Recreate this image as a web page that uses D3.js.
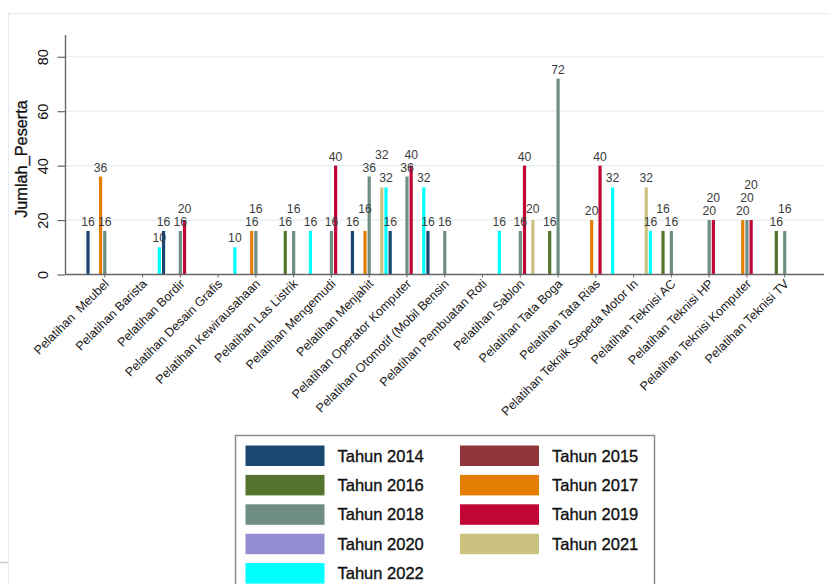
<!DOCTYPE html>
<html>
<head>
<meta charset="utf-8">
<script src="https://cdn.jsdelivr.net/npm/d3@7/dist/d3.min.js"></script>
<style>
  html, body { margin: 0; padding: 0; background: #ffffff; }
  svg { display: block; font-family: "Liberation Sans", Arial, sans-serif; }
</style>
</head>
<body>
<svg id="chart" width="830" height="584"></svg>
<script>
// ---------------- DATA ----------------
const categories = [
  "Pelatihan  Meubel", "Pelatihan Barista", "Pelatihan Bordir", "Pelatihan Desain Grafis",
  "Pelatihan Kewirausahaan", "Pelatihan Las Listrik", "Pelatihan Mengemudi", "Pelatihan Menjahit",
  "Pelatihan Operator Komputer", "Pelatihan Otomotif (Mobil Bensin", "Pelatihan Pembuatan Roti",
  "Pelatihan Sablon", "Pelatihan Tata Boga", "Pelatihan Tata Rias", "Pelatihan Teknik Sepeda Motor In",
  "Pelatihan Teknisi AC", "Pelatihan Teknisi HP", "Pelatihan Teknisi Komputer", "Pelatihan Teknisi TV"
];
const years = ["Tahun 2014", "Tahun 2015", "Tahun 2016", "Tahun 2017", "Tahun 2018",
               "Tahun 2019", "Tahun 2020", "Tahun 2021", "Tahun 2022"];
const colors = ["#1a476f", "#90353b", "#55752f", "#e37e00", "#6e8e84",
                "#c10534", "#938dd2", "#cac27e", "#00ffff"];
// values per year, one entry per category (null = no bar)
const tahun2014 = [16, null, 16, null, null, null, null, 16, 16, 16, null, null, null, null, null, null, null, null, null];
const tahun2015 = [null, null, null, null, null, null, null, null, null, null, null, null, null, null, null, null, null, null, null];
const tahun2016 = [null, null, null, null, null, 16, null, null, null, null, null, null, 16, null, null, 16, null, null, 16];
const tahun2017 = [36, null, null, null, 16, null, null, 16, null, null, null, null, null, 20, null, null, null, 20, null];
const tahun2018 = [16, null, 16, null, 16, 16, 16, 36, 36, 16, null, 16, 72, null, null, 16, 20, 20, 16];
const tahun2019 = [null, null, 20, null, null, null, 40, null, 40, null, null, 40, null, 40, null, null, 20, 20, null];
const tahun2020 = [null, null, null, null, null, null, null, null, null, null, null, null, null, null, null, null, null, null, null];
const tahun2021 = [null, null, null, null, null, null, null, 32, null, null, null, 20, null, null, 32, null, null, null, null];
const tahun2022 = [null, 10, null, 10, null, 16, null, 32, 32, null, 16, null, null, 32, 16, null, null, null, null];
const seriesValues = [tahun2014, tahun2015, tahun2016, tahun2017, tahun2018,
                      tahun2019, tahun2020, tahun2021, tahun2022];
const yTicks = [0, 20, 40, 60, 80];
const yTitle = "Jumlah_Peserta";

// ---------------- LAYOUT ----------------
const svg = d3.select("#chart");
const plot = { left: 65.5, right: 824, top: 35, bottom: 274.5 };

// outer light frame
svg.append("rect").attr("x", 8.5).attr("y", 13.5).attr("width", 840).attr("height", 600)
  .attr("fill", "none").attr("stroke", "#e3ebee").attr("stroke-width", 1);
svg.append("line").attr("x1", 0).attr("x2", 8).attr("y1", 562.5).attr("y2", 562.5)
  .attr("stroke", "#c8c8c8").attr("stroke-width", 1.5);

const x0 = d3.scaleBand().domain(categories).range([plot.left, plot.right])
  .paddingInner(0).paddingOuter(0.54);
const x1 = d3.scaleBand().domain(years).range([0, x0.bandwidth()]).padding(0);
const y = d3.scaleLinear().domain([0, 88]).range([plot.bottom, plot.top]);

// gridlines
svg.append("g").selectAll("line").data(yTicks.filter(d => d > 0)).join("line")
  .attr("x1", plot.left).attr("x2", plot.right)
  .attr("y1", d => y(d)).attr("y2", d => y(d))
  .attr("stroke", "#e4edf0").attr("stroke-width", 1.2);

// bars
const barW = 3.2;
const bars = [];
seriesValues.forEach((vals, si) => {
  vals.forEach((v, ci) => {
    if (v === null || v === undefined) return;
    bars.push({ cat: categories[ci], year: years[si], si, v,
      cx: x0(categories[ci]) + x1(years[si]) + x1.bandwidth() / 2 });
  });
});
bars.sort((a, b) => a.cx - b.cx);

svg.append("g").selectAll("rect").data(bars).join("rect")
  .attr("x", d => d.cx - barW / 2).attr("width", barW)
  .attr("y", d => y(d.v)).attr("height", d => y(0) - y(d.v))
  .attr("fill", d => colors[d.si]);

// bar labels with simple collision avoidance (shift upward)
const placed = [];
const lblW = 13, lblH = 11.5, step = 13;
bars.forEach(b => {
  let ly = y(b.v) - 5;
  let moved = true;
  while (moved) {
    moved = false;
    for (const p of placed) {
      if (Math.abs(p.x - b.cx) < lblW && Math.abs(p.y - ly) < lblH) {
        ly = Math.min(ly, p.y - step);
        moved = true;
      }
    }
  }
  placed.push({ x: b.cx, y: ly });
  b.ly = ly;
});
svg.append("g").selectAll("text").data(bars).join("text")
  .attr("x", d => d.cx).attr("y", d => d.ly)
  .attr("text-anchor", "middle").attr("font-size", 12.2).attr("fill", "#3c3c3c")
  .text(d => d.v);

// y axis
const yAxis = svg.append("g").attr("transform", `translate(${plot.left},0)`)
  .call(d3.axisLeft(y).tickValues(yTicks).tickSize(8).tickSizeOuter(0).tickFormat(d3.format("d")));
yAxis.select(".domain").attr("stroke", "#666").attr("stroke-width", 1.4);
yAxis.selectAll(".tick line").attr("stroke", "#666").attr("stroke-width", 1.2);
yAxis.selectAll(".tick text")
  .attr("x", null).attr("dy", null)
  .attr("transform", "translate(-18,0) rotate(-90)")
  .attr("text-anchor", "middle").attr("font-size", 14.5).attr("fill", "#111")
  .attr("font-family", "Liberation Sans, Arial, sans-serif");
yAxis.select(".domain").attr("d", `M0,${plot.bottom}V${plot.top}`);

svg.append("text")
  .attr("transform", `translate(26.5,159) rotate(-90)`)
  .attr("text-anchor", "middle").attr("font-size", 16.3)
  .attr("fill", "#111").attr("stroke", "#111").attr("stroke-width", 0.3)
  .text(yTitle);

// x axis
const xAxis = svg.append("g").attr("transform", `translate(0,${plot.bottom})`)
  .call(d3.axisBottom(x0).tickSize(3).tickSizeOuter(0));
xAxis.select(".domain").attr("stroke", "#666").attr("stroke-width", 1.4)
  .attr("d", `M${plot.left},0H${plot.right}`);
xAxis.selectAll(".tick line").attr("stroke", "#666");
xAxis.selectAll(".tick text")
  .attr("y", null).attr("dy", null)
  .attr("transform", "translate(5,10) rotate(-45)")
  .attr("text-anchor", "end").attr("font-size", 12.5).attr("fill", "#1a1a1a")
  .attr("font-family", "Liberation Sans, Arial, sans-serif")
  .style("white-space", "pre");

// legend
const leg = svg.append("g");
leg.append("rect").attr("x", 235.5).attr("y", 435.5).attr("width", 419).attr("height", 200)
  .attr("fill", "#fff").attr("stroke", "#8c8c8c").attr("stroke-width", 1.5);
const colX = [245.5, 460], rowY0 = 445.5, rowH = 29.4;
years.forEach((yr, i) => {
  const col = i % 2, row = Math.floor(i / 2);
  const gx = colX[col], gy = rowY0 + row * rowH;
  leg.append("rect").attr("x", gx).attr("y", gy).attr("width", 79).attr("height", 20.5)
    .attr("fill", colors[i]);
  leg.append("text").attr("x", gx + 92).attr("y", gy + 16)
    .attr("font-size", 16.5).attr("fill", "#111").attr("stroke", "#111").attr("stroke-width", 0.35)
    .text(yr);
});
</script>
</body>
</html>
